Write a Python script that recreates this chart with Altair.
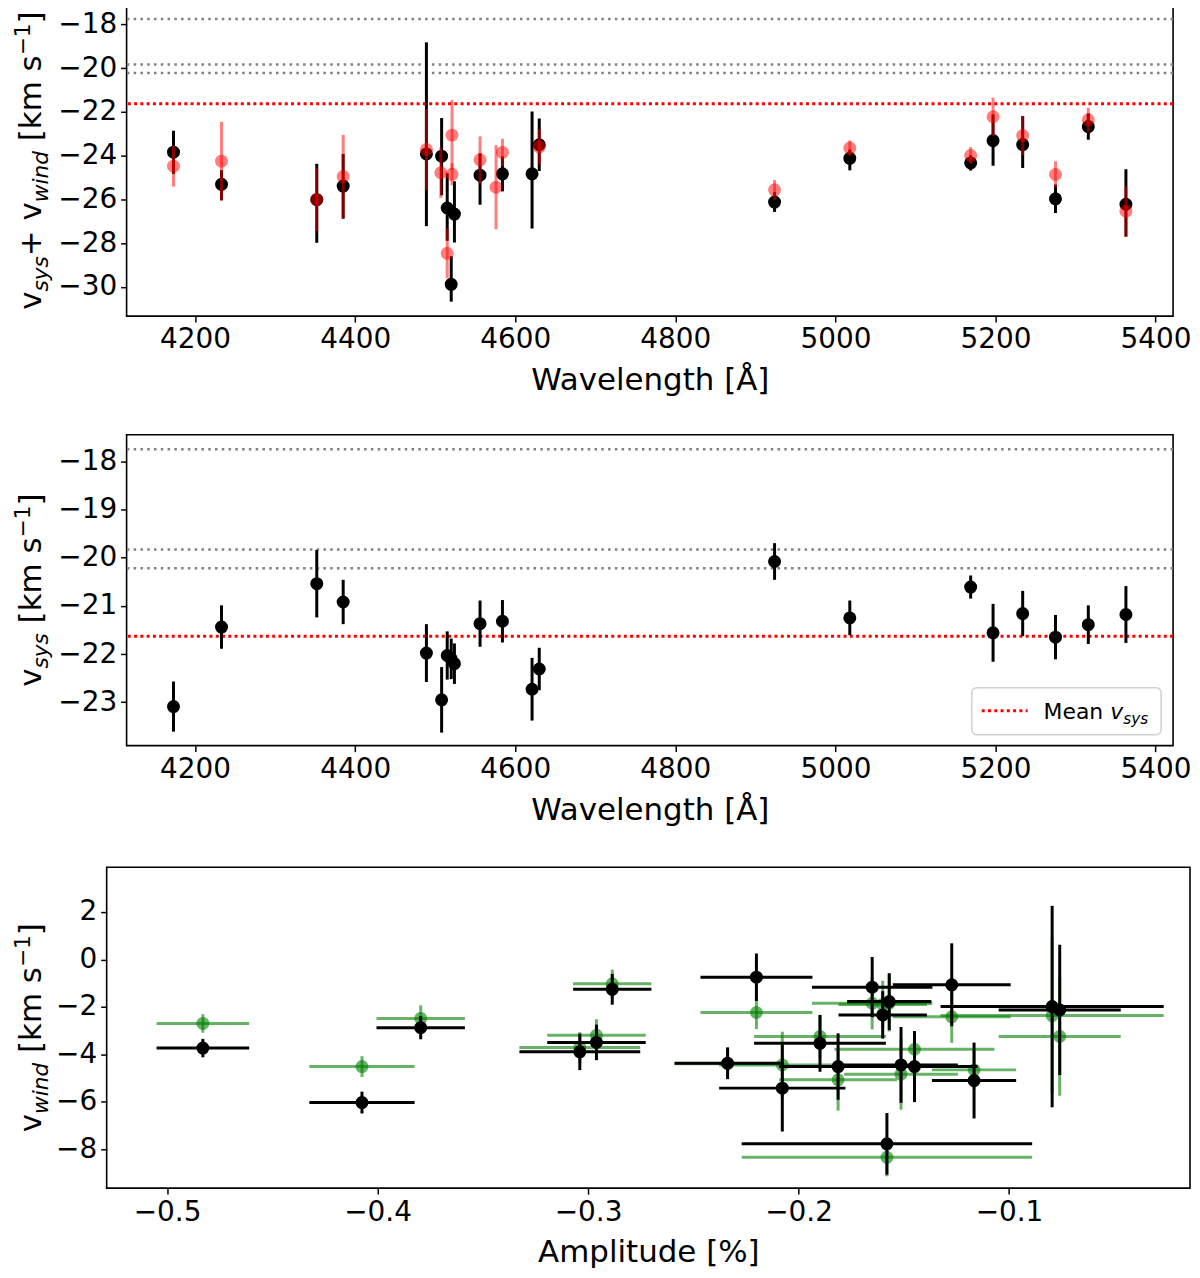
import altair as alt
import pandas as pd

# ---- line wavelengths [A] and velocities ----
wave = [4173, 4233, 4352, 4385, 4489, 4508, 4515, 4520, 4524, 4556, 4584, 4621, 4630,
        4924, 5018, 5169, 5197, 5234, 5275, 5316, 5363]
# v_sys + v_wind (black)
vtot = [-23.84, -25.31, -26.01, -25.39, -23.92, -24.02, -26.39, -29.88, -26.67, -24.89, -24.83, -24.83, -23.50,
        -26.12, -24.12, -24.33, -23.31, -23.49, -25.97, -22.67, -26.22]
vtot_up = [0.98, 0.65, 1.64, 1.47, 5.10, 1.74, 1.59, 1.29, 1.50, 1.00, 0.80, 2.85, 1.20,
           0.45, 0.40, 0.35, 1.20, 1.30, 0.65, 0.60, 1.60]
vtot_dn = [0.99, 0.73, 1.97, 1.49, 3.30, 1.79, 1.50, 0.79, 1.30, 1.35, 0.80, 2.50, 1.20,
           0.45, 0.55, 0.35, 1.15, 1.07, 0.65, 0.60, 1.48]
# second estimate (red, translucent)
wave_red = [4173, 4233, 4352, 4385, 4489, 4507, 4515, 4521, 4521, 4556, 4576, 4584, 4630,
            4924, 5018, 5169, 5197, 5234, 5275, 5316, 5363]
vtot_red = [-24.48, -24.25, -26.00, -24.95, -23.72, -24.78, -28.46, -23.06, -24.85, -24.19, -25.44, -23.85, -23.60,
            -25.56, -23.65, -23.99, -22.22, -23.08, -24.86, -22.36, -26.54]
vtot_red_err = [0.93, 1.80, 1.45, 1.90, 1.85, 1.15, 1.15, 1.60, 0.50, 1.07, 1.92, 0.62, 0.80,
                0.45, 0.35, 0.38, 0.87, 0.90, 0.60, 0.55, 1.15]
# v_sys
vsys = [-23.09, -21.44, -20.54, -20.92, -21.98, -22.95, -22.03, -22.10, -22.20, -21.37, -21.32, -22.73, -22.31,
        -20.08, -21.25, -20.61, -21.56, -21.16, -21.65, -21.39, -21.18]
vsys_err = [0.52, 0.45, 0.70, 0.46, 0.60, 0.68, 0.50, 0.42, 0.42, 0.48, 0.44, 0.65, 0.44,
            0.38, 0.36, 0.24, 0.60, 0.47, 0.46, 0.40, 0.59]
gray_levels = [-17.75, -19.83, -20.22]
mean_vsys = -21.63

# ---- v_wind vs amplitude ----
amp = [-0.483, -0.4074, -0.3795, -0.3039, -0.296, -0.2885, -0.2200, -0.2337, -0.2077, -0.1898, -0.1812,
       -0.165, -0.160, -0.1569, -0.158, -0.1513, -0.1449, -0.1272, -0.1166, -0.0795, -0.0759]
amp_err = [0.022, 0.025, 0.021, 0.0287, 0.0234, 0.0186, 0.0266, 0.0252, 0.030, 0.0313, 0.028,
           0.0286, 0.021, 0.020, 0.069, 0.027, 0.030, 0.028, 0.020, 0.053, 0.029]
vwind = [-3.74, -6.04, -2.88, -3.90, -3.50, -1.26, -0.75, -4.38, -5.43, -3.54, -4.52,
         -1.17, -2.34, -1.78, -7.78, -4.45, -4.52, -1.07, -5.11, -1.99, -2.13]
vwind_err = [0.39, 0.46, 0.49, 0.77, 0.75, 0.65, 1.00, 0.67, 1.83, 1.20, 1.40,
             1.27, 1.00, 1.20, 1.30, 1.60, 1.50, 1.75, 1.60, 4.25, 2.75]
vwind_alt = [-2.70, -4.52, -2.49, -3.72, -3.20, -1.03, -2.24, -4.40, -4.45, -3.25, -5.08,
             -1.85, -1.90, -1.84, -8.35, -4.84, -3.79, -2.42, -4.66, -2.37, -3.25]
vwind_alt_err = [0.39, 0.44, 0.55, 0.65, 0.68, 0.60, 0.70, 0.65, 1.40, 0.90, 1.30,
                 1.10, 1.00, 1.20, 0.80, 1.50, 0.70, 1.10, 0.80, 3.30, 2.50]
amp_alt_err = [0.022, 0.025, 0.021, 0.0287, 0.0234, 0.0186, 0.0266, 0.0252, 0.030, 0.0313, 0.028,
               0.0286, 0.021, 0.020, 0.069, 0.027, 0.038, 0.028, 0.020, 0.053, 0.029]


FONT = "DejaVu Sans"
GREEN = "#008000"
one = pd.DataFrame({"k": [0]})

# DejaVu Sans advance widths (em), used to butt title pieces together
CHAR_W = {"v": .592, "s": .521, "y": .592, "+": .838, " ": .318, "w": .818, "i": .278,
          "n": .634, "d": .635, "[": .390, "k": .579, "m": .974, "]": .390, "\u2212": .838, "1": .636,
          "M": .863, "e": .615, "a": .613}


def text_len(s, size):
    return sum(CHAR_W.get(c, 0.6) for c in s) * size


def rich_vtitle(parts, x0, yc, size=31):
    # vertical axis title built from pieces so that sub/superscripts can be drawn
    sizes = [size if k == "n" else 0.7 * size for _, k in parts]
    total = sum(text_len(t, fs) for (t, _), fs in zip(parts, sizes))
    y = yc + total / 2
    out = []
    for (t, k), fs in zip(parts, sizes):
        dx = {"n": 0, "sub": 0.22 * size, "sup": -0.36 * size}[k]
        lead = len(t) - len(t.lstrip())  # leading blanks are dropped when drawn
        out.append(
            alt.Chart(one).mark_text(text=t.strip(), angle=270, align="left", baseline="alphabetic",
                                     font=FONT, fontSize=fs, color="black",
                                     fontStyle="italic" if k == "sub" else "normal")
            .encode(x=alt.value(x0 + dx), y=alt.value(y - text_len(t[:lead], fs)))
        )
        y -= text_len(t, fs)
    return out


AX = dict(grid=False, domain=False, tickSize=6, tickWidth=1.5, tickColor="black",
          labelFont=FONT, labelFontSize=28, labelColor="black", labelPadding=4,
          titleFont=FONT, titleFontSize=31, titleFontWeight="normal", titleColor="black", titlePadding=12)

x_wave = alt.Scale(domain=[4114.4, 5421.9], nice=False, zero=False)
ax_wave = alt.Axis(title="Wavelength [Å]", values=[4200, 4400, 4600, 4800, 5000, 5200, 5400], format="d", **AX)

y1_scale = alt.Scale(domain=[-31.33, -17.12], nice=False, zero=False)
y1_axis = alt.Axis(title=None, values=[-30, -28, -26, -24, -22, -20, -18], format="d", **AX)
y2_scale = alt.Scale(domain=[-23.9, -17.45], nice=False, zero=False)
y2_axis = alt.Axis(title=None, values=[-23, -22, -21, -20, -19, -18], format="d", **AX)

x_amp = alt.Scale(domain=[-0.5287, -0.014], nice=False, zero=False)
ax_amp = alt.Axis(title="Amplitude [%]", values=[-0.5, -0.4, -0.3, -0.2, -0.1], format=".1f", **AX)
y3_scale = alt.Scale(domain=[-9.65, 3.89], nice=False, zero=False)
y3_axis = alt.Axis(title=None, values=[-8, -6, -4, -2, 0, 2], format="d", **AX)


def wx(f):
    return alt.X(f"{f}:Q", scale=x_wave, axis=ax_wave)


def ax_(f):
    return alt.X(f"{f}:Q", scale=x_amp, axis=ax_amp)


def yy(f, sc, axis):
    return alt.Y(f"{f}:Q", scale=sc, axis=axis)


# ---- tables ----
df_tot = pd.DataFrame({"wave": wave, "v": vtot,
                       "lo": [v - d for v, d in zip(vtot, vtot_dn)],
                       "hi": [v + u for v, u in zip(vtot, vtot_up)]})
df_red = pd.DataFrame({"wave": wave_red, "v": vtot_red,
                       "lo": [v - e for v, e in zip(vtot_red, vtot_red_err)],
                       "hi": [v + e for v, e in zip(vtot_red, vtot_red_err)]})
df_sys = pd.DataFrame({"wave": wave, "v": vsys,
                       "lo": [v - e for v, e in zip(vsys, vsys_err)],
                       "hi": [v + e for v, e in zip(vsys, vsys_err)]})
df_gray = pd.DataFrame({"v": gray_levels})
df_mean = pd.DataFrame({"v": [mean_vsys]})
df_w = pd.DataFrame({"amp": amp, "alo": [a - e for a, e in zip(amp, amp_err)],
                     "ahi": [a + e for a, e in zip(amp, amp_err)],
                     "v": vwind, "lo": [v - e for v, e in zip(vwind, vwind_err)],
                     "hi": [v + e for v, e in zip(vwind, vwind_err)]})
df_wa = pd.DataFrame({"amp": amp, "alo": [a - e for a, e in zip(amp, amp_alt_err)],
                      "ahi": [a + e for a, e in zip(amp, amp_alt_err)],
                      "v": vwind_alt, "lo": [v - e for v, e in zip(vwind_alt, vwind_alt_err)],
                      "hi": [v + e for v, e in zip(vwind_alt, vwind_alt_err)]})


def ref_lines(sc, axis):
    g = alt.Chart(df_gray).mark_rule(color="gray", strokeDash=[2.5, 4.3], strokeWidth=2.5).encode(
        y=yy("v", sc, axis))
    m = alt.Chart(df_mean).mark_rule(color="red", strokeDash=[3, 3.3], strokeWidth=3).encode(
        y=yy("v", sc, axis))
    return [g, m]


def errpoints(df, sc, axis, color, opacity):
    bars = alt.Chart(df).mark_rule(color=color, strokeWidth=3, opacity=opacity).encode(
        x=wx("wave"), y=yy("lo", sc, axis), y2=alt.Y2("hi"))
    pts = alt.Chart(df).mark_circle(color=color, size=170, opacity=opacity).encode(
        x=wx("wave"), y=yy("v", sc, axis))
    return [bars, pts]


# ---- panel 1 ----
p1 = alt.layer(
    *ref_lines(y1_scale, y1_axis),
    *errpoints(df_tot, y1_scale, y1_axis, "black", 1),
    *errpoints(df_red, y1_scale, y1_axis, "red", 0.5),
    *rich_vtitle([("v", "n"), ("sys", "sub"), ("+ v", "n"), ("wind", "sub"),
                  (" [km s", "n"), ("\u22121", "sup"), ("]", "n")], -86, 156),
).properties(width=1050, height=312)

# ---- panel 2 ----
legend = [
    alt.Chart(one).mark_rect(fill="white", stroke="#cccccc", strokeWidth=1.5, cornerRadius=5, opacity=0.9).encode(
        x=alt.value(848), x2=alt.value(1038), y=alt.value(254), y2=alt.value(301)),
    alt.Chart(one).mark_rule(color="red", strokeDash=[3, 3.3], strokeWidth=3).encode(
        x=alt.value(858), x2=alt.value(904), y=alt.value(277)),
    alt.Chart(one).mark_text(text="Mean", align="left", baseline="alphabetic", font=FONT, fontSize=22,
                             color="black").encode(x=alt.value(920), y=alt.value(285)),
    alt.Chart(one).mark_text(text="v", align="left", baseline="alphabetic", font=FONT, fontSize=22,
                             fontStyle="italic", color="black").encode(
        x=alt.value(920 + text_len("Mean ", 22)), y=alt.value(285)),
    alt.Chart(one).mark_text(text="sys", align="left", baseline="alphabetic", font=FONT, fontSize=15.4,
                             fontStyle="italic", color="black").encode(
        x=alt.value(920 + text_len("Mean v", 22)), y=alt.value(290)),
]
p2 = alt.layer(
    *ref_lines(y2_scale, y2_axis),
    *errpoints(df_sys, y2_scale, y2_axis, "black", 1),
    *legend,
    *rich_vtitle([("v", "n"), ("sys", "sub"), (" [km s", "n"), ("\u22121", "sup"), ("]", "n")], -86, 156),
).properties(width=1050, height=312)


# ---- panel 3 ----
def cross(df, color, opacity):
    hb = alt.Chart(df).mark_rule(color=color, strokeWidth=3, opacity=opacity).encode(
        x=ax_("alo"), x2=alt.X2("ahi"), y=yy("v", y3_scale, y3_axis))
    vb = alt.Chart(df).mark_rule(color=color, strokeWidth=3, opacity=opacity).encode(
        x=ax_("amp"), y=yy("lo", y3_scale, y3_axis), y2=alt.Y2("hi"))
    pt = alt.Chart(df).mark_circle(color=color, size=170, opacity=opacity).encode(
        x=ax_("amp"), y=yy("v", y3_scale, y3_axis))
    return [hb, vb, pt]


p3 = alt.layer(
    *cross(df_wa, GREEN, 0.6),
    *cross(df_w, "black", 1),
    *rich_vtitle([("v", "n"), ("wind", "sub"), (" [km s", "n"), ("\u22121", "sup"), ("]", "n")], -66, 161),
).properties(width=1087, height=322)


def spacer(dy):
    # invisible one-pixel cell; dy nudges the row below it
    return alt.Chart(one).mark_point(opacity=0, size=1).encode(x=alt.value(0), y=alt.value(dy)).properties(
        width=1, height=1, view=alt.ViewBackground(stroke="transparent"))


def row(p, dy=0):
    return alt.hconcat(spacer(dy), p, spacing=0)


chart = alt.vconcat(row(p1), row(p2), row(p3, -3), spacing=36).properties(
    padding={"left": 0, "right": 0, "top": -7, "bottom": 0}
).configure_view(stroke="black", strokeWidth=1.6)

chart.save("out.html", embed_options={"renderer": "svg", "actions": False})
